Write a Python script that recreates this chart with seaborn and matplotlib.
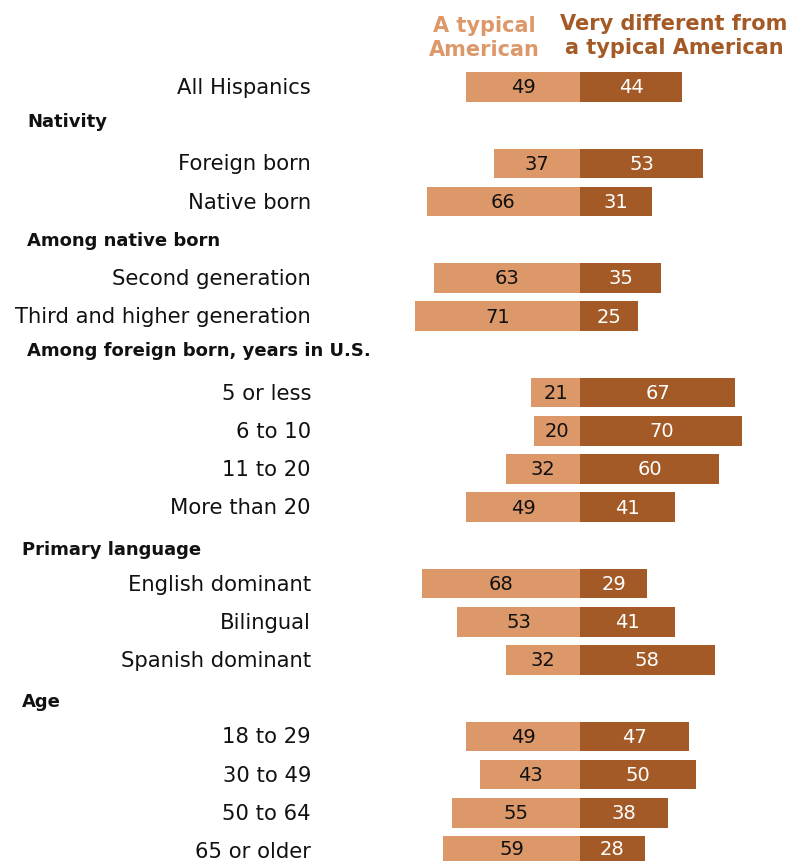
import matplotlib
matplotlib.use("Agg")
import matplotlib.pyplot as plt
import seaborn as sns
import pandas as pd

# Row layout: group headers occupy their own slot, bars sit in the others
rows = [
    ("All Hispanics", 49, 44),
    ("Nativity", None, None),
    ("Foreign born", 37, 53),
    ("Native born", 66, 31),
    ("Among native born", None, None),
    ("Second generation", 63, 35),
    ("Third and higher generation", 71, 25),
    ("Among foreign born, years in U.S.", None, None),
    ("5 or less", 21, 67),
    ("6 to 10", 20, 70),
    ("11 to 20", 32, 60),
    ("More than 20", 49, 41),
    ("Primary language", None, None),
    ("English dominant", 68, 29),
    ("Bilingual", 53, 41),
    ("Spanish dominant", 32, 58),
    ("Age", None, None),
    ("18 to 29", 49, 47),
    ("30 to 49", 43, 50),
    ("50 to 64", 55, 38),
    ("65 or older", 59, 28),
]

categories = [r[0] for r in rows if r[1] is not None]
typical = [r[1] for r in rows if r[1] is not None]
different = [r[2] for r in rows if r[1] is not None]
positions = [i for i, r in enumerate(rows) if r[1] is not None]
headers = [(i, r[0]) for i, r in enumerate(rows) if r[1] is None]
header_x = {"Nativity": 27, "Among native born": 27,
            "Among foreign born, years in U.S.": 27,
            "Primary language": 22, "Age": 22}
header_dy = {"Nativity": -0.1, "Among native born": 0.0,
             "Among foreign born, years in U.S.": -0.12,
             "Primary language": 0.1, "Age": 0.08}

LIGHT = "#DD9869"
DARK = "#A45A26"

df = pd.DataFrame({"category": categories, "pos": positions,
                   "typical_neg": [-v for v in typical],
                   "different": different})

sns.set_style("white")
plt.rcParams["font.family"] = ["DejaVu Sans"]

W, H = 792, 862
fig = plt.figure(figsize=(W / 100, H / 100), dpi=100)
ax = fig.add_axes([0, 0, 1, 1])

PX = 2.32          # pixels per percentage point
X0 = 580           # pixel column of the zero line
ROW = 38.2         # pixels per row slot
Y0 = 88            # pixel row of the first slot

sns.barplot(data=df, x="typical_neg", y="pos", orient="y", native_scale=True,
            color=LIGHT, saturation=1, width=0.78, errorbar=None, linewidth=0, ax=ax)
sns.barplot(data=df, x="different", y="pos", orient="y", native_scale=True,
            color=DARK, saturation=1, width=0.78, errorbar=None, linewidth=0, ax=ax)

ax.set_xlim(-X0 / PX, (W - X0) / PX)
ax.set_ylim((H - Y0) / ROW, -Y0 / ROW)
ax.axis("off")

ax.bar_label(ax.containers[0], labels=[str(v) for v in typical],
             label_type="center", fontsize=14, color="#111111")
ax.bar_label(ax.containers[1], labels=[str(v) for v in different],
             label_type="center", fontsize=14, color="white")

def px_x(p):
    return (p - X0) / PX

def px_y(p):
    return (p - Y0) / ROW

for p, name in zip(positions, categories):
    ax.text(px_x(311), p, name, ha="right", va="center", fontsize=15.2, color="#111111")

for i, name in headers:
    ax.text(px_x(header_x[name]), i + header_dy[name], name, ha="left", va="center",
            fontsize=13, fontweight="bold", color="#111111")

ax.text(px_x(484), px_y(38), "A typical\nAmerican", ha="center",
        va="center", fontsize=15, fontweight="bold", color=LIGHT, linespacing=1.3)
ax.text(px_x(674), px_y(36), "Very different from\na typical American",
        ha="center", va="center", fontsize=15, fontweight="bold", color=DARK,
        linespacing=1.3)

fig.savefig("out.png", dpi=100)
